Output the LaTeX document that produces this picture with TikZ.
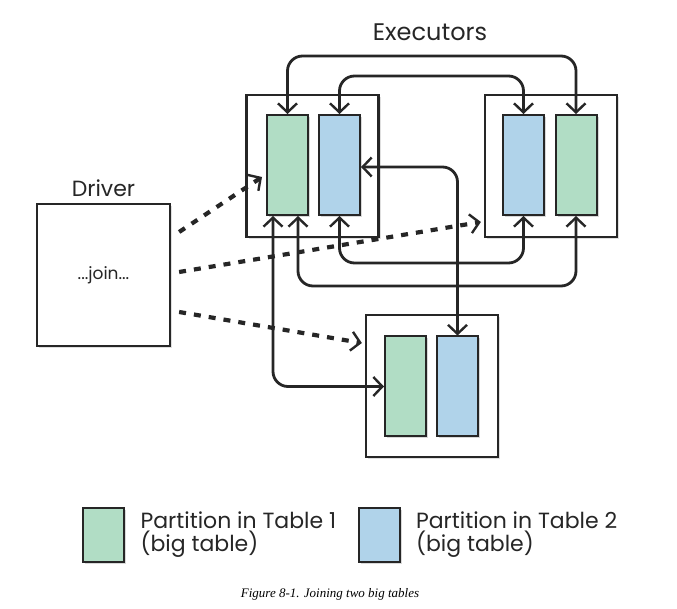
\documentclass[tikz,border=0pt]{standalone}
\usepackage{fontspec}
\setmainfont{Poppins}
\newfontfamily\capfont{Liberation Serif}
\usetikzlibrary{positioning}
\usetikzlibrary{arrows.meta}
\usetikzlibrary{shadows}
\definecolor{tblgreen}{HTML}{B1DDC5}
\definecolor{tblblue}{HTML}{B0D3EA}
\definecolor{inkgray}{HTML}{262626}
\tikzset {
  % executor and driver boxes
  exec/.style = {draw=inkgray, line width=2.2pt, fill=white, minimum width=132pt, minimum height=142pt,
    inner sep=0pt, drop shadow={shadow xshift=2pt, shadow yshift=-2pt, opacity=.25}},
  % partitions of the two tables
  part/.style = {draw=inkgray, line width=2pt, minimum width=41pt, minimum height=100pt, inner sep=0pt,
    drop shadow={shadow xshift=2pt, shadow yshift=-2pt, opacity=.3}},
  tblone/.style = {part, fill=tblgreen},
  tbltwo/.style = {part, fill=tblblue},
  % shuffle links between partitions
  link/.style = {draw=inkgray, line width=2.8pt, rounded corners=15pt,
    arrows={Straight Barb[length=9pt, width=19pt, line width=2.4pt]-Straight Barb[length=9pt, width=19pt, line width=2.4pt]}},
  % calls from the driver
  call/.style = {draw=inkgray, line width=4.2pt, dash pattern=on 7pt off 8pt,
    arrows={-Straight Barb[length=9pt, width=19pt, line width=2.4pt]}},
  label/.style = {text=inkgray, font=\fontsize{22}{23}\selectfont},
}

\begin{document}
\begin{tikzpicture}[x=1pt, y=1pt]
  \useasboundingbox (0,0) rectangle (677,608);

  % executors
  \node[exec] (exA) at (312.5,442) {};
  \node[exec] (exB) at (551,442) {};
  \node[exec] (exC) at (432,222) {};
  \node[label, font=\fontsize{24}{26}\selectfont] (exlabel) at (430,576) {Executors};

  \node[tblone] (gA) at (287.5,443) {};
  \node[tbltwo] (bA) at (339.5,443) {};
  \node[tbltwo] (bB) at (523.5,443) {};
  \node[tblone] (gB) at (576,443) {};
  \node[tblone] (gC) at (405.5,221.5) {};
  \node[tbltwo] (bC) at (457.5,221.5) {};

  % driver
  \node[exec, minimum width=133pt] (drv) at (103.5,333) {\fontsize{17}{19}\selectfont\color{inkgray}...join...};
  \node[label, above=3pt of drv] (drvlabel) {Driver};

  % links
  \draw[link] (gA.north) -- ++(0,58) -| (gB.north);
  \draw[link] (bA.north) -- ++(0,38) -| (bB.north);
  \draw[link] (bA.south) -- ++(0,-47) -| (bB.south);
  \draw[link] ([xshift=10.5pt]gA.south) -- ++(0,-70) -| (gB.south);
  \draw[link] ([xshift=-14.5pt]gA.south) |- (gC.west);
  \draw[link] ([yshift=-2pt]bA.east) -| (bC.north);

  \draw[call] ([shift={(8pt,43pt)}]drv.east) -- ([shift={(-4pt,-12pt)}]gA.west);
  \draw[call] ([shift={(8pt,3pt)}]drv.east) -- ([shift={(-3pt,-56pt)}]exB.west);
  \draw[call] ([shift={(8pt,-37pt)}]drv.east) -- ([shift={(-3pt,43pt)}]exC.west);

  % legend
  \node[tblone, minimum height=54pt] (keyone) at (103.5,73) {};
  \node[label, right=12pt of keyone, align=left] (keyonetext) {Partition in Table 1\\(big table)};
  \node[tbltwo, minimum height=54pt] (keytwo) at (379,73) {};
  \node[label, right=12pt of keytwo, align=left] (keytwotext) {Partition in Table 2\\(big table)};

  \node[font=\capfont\itshape\fontsize{13}{15}\selectfont] (caption) at (330,14) {Figure 8-1. Joining two big tables};
\end{tikzpicture}
\end{document}
